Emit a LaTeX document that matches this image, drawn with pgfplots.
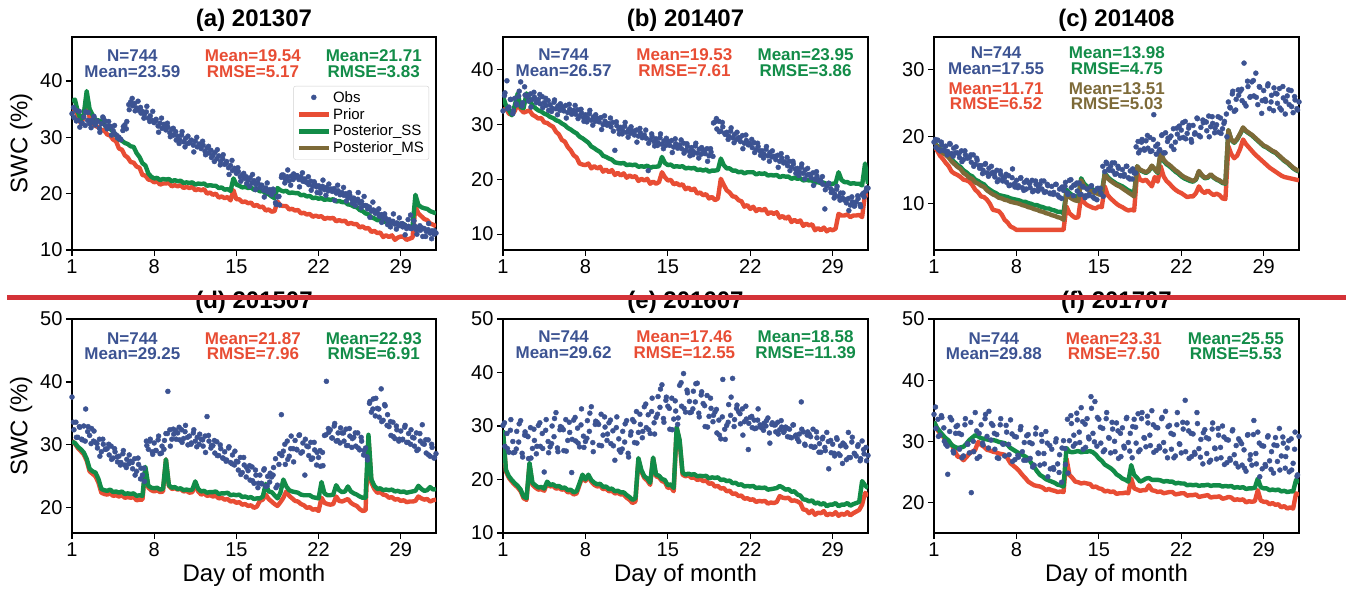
\documentclass[border=0pt]{standalone}
\usepackage{fontspec}
\setmainfont{Liberation Sans}
\usepackage{pgfplots}
\usepackage{pgfplotstable}
\pgfplotsset{compat=1.18}
\definecolor{obsblue}{RGB}{60,83,146}
\definecolor{priorred}{RGB}{232,77,52}
\definecolor{ssgreen}{RGB}{18,140,72}
\definecolor{msolive}{RGB}{125,106,56}
\definecolor{sepred}{RGB}{212,50,56}

% ---------- panel (a) 201307 ----------
\pgfplotstableread[header=false,row sep=\\]{%
34.2\\33.5\\34.8\\33.0\\31.8\\32.5\\%
33.6\\34.5\\33.0\\32.4\\33.0\\32.6\\%
32.2\\32.8\\31.6\\32.4\\33.4\\32.9\\%
31.5\\32.0\\31.9\\31.2\\30.6\\30.3\\%
30.0\\29.6\\31.2\\32.2\\32.8\\35.8\\%
36.3\\35.6\\36.0\\35.2\\34.8\\35.3\\%
34.6\\34.0\\34.5\\33.4\\33.8\\33.0\\%
32.6\\33.2\\32.0\\32.5\\31.6\\32.3\\%
31.3\\31.8\\30.8\\31.4\\30.4\\31.0\\%
30.2\\29.6\\30.4\\29.2\\29.8\\28.9\\%
29.0\\29.5\\28.6\\29.3\\28.3\\28.8\\%
28.0\\28.6\\27.5\\28.1\\27.2\\27.7\\%
26.8\\27.3\\26.2\\26.7\\25.7\\26.2\\%
25.2\\25.7\\24.6\\25.0\\24.1\\24.5\\%
23.6\\23.9\\23.0\\23.3\\22.7\\23.0\\%
22.4\\22.8\\21.9\\22.3\\21.6\\21.9\\%
21.1\\21.5\\20.6\\21.0\\20.3\\20.7\\%
19.8\\20.3\\18.4\\19.4\\18.0\\22.9\\%
23.3\\22.6\\23.0\\22.3\\23.1\\22.5\\%
22.9\\23.2\\22.5\\23.0\\22.2\\22.6\\%
22.0\\21.6\\22.2\\21.3\\21.8\\21.2\\%
21.4\\20.9\\21.3\\20.7\\21.1\\20.5\\%
20.8\\20.4\\20.9\\20.1\\20.5\\19.8\\%
20.2\\19.7\\20.0\\19.3\\19.7\\19.0\\%
19.2\\18.7\\19.0\\18.3\\18.6\\17.9\\%
17.9\\17.3\\17.6\\16.9\\17.1\\16.5\\%
16.6\\16.0\\16.3\\15.6\\15.8\\15.3\\%
15.4\\14.9\\15.1\\14.6\\14.8\\14.3\\%
14.6\\14.1\\14.4\\13.8\\14.2\\16.2\\%
13.9\\14.3\\13.6\\14.0\\13.5\\13.9\\%
13.8\\13.3\\13.6\\13.0\\13.4\\12.8\\%
13.0\\}\aObs
\pgfplotstableread[header=false,row sep=\\]{%
35.3\\32.9\\34.6\\32.5\\%
32.1\\34.4\\31.7\\33.7\\%
32.9\\30.9\\33.6\\32.0\\%
32.8\\30.4\\32.1\\29.9\\%
29.6\\31.9\\31.5\\34.9\\%
36.9\\34.7\\36.4\\34.3\\%
33.4\\35.5\\32.8\\34.6\\%
32.9\\30.9\\33.4\\31.8\\%
32.5\\30.1\\31.6\\29.5\\%
28.9\\31.0\\28.3\\30.2\\%
29.4\\27.4\\30.0\\28.3\\%
29.3\\26.9\\28.4\\26.4\\%
25.7\\27.8\\25.1\\26.9\\%
25.4\\23.4\\25.9\\24.3\\%
24.6\\22.2\\23.6\\21.8\\%
21.3\\23.4\\20.7\\22.6\\%
21.4\\19.4\\21.9\\20.3\\%
20.8\\18.1\\19.5\\23.3\\%
21.9\\24.2\\21.5\\23.5\\%
23.2\\21.2\\23.7\\22.1\\%
23.0\\20.6\\22.1\\20.2\\%
20.1\\22.4\\19.7\\21.7\\%
20.8\\18.8\\21.5\\19.9\\%
21.1\\18.7\\20.2\\18.3\\%
17.9\\20.2\\17.5\\19.5\\%
17.8\\15.8\\18.5\\16.9\\%
17.3\\14.9\\16.4\\14.5\\%
14.1\\16.4\\13.7\\15.7\\%
14.7\\12.7\\15.4\\13.8\\%
15.2\\12.8\\14.3\\12.4\\%
12.4\\14.7\\12.0\\13.4\\%
}\aObsB
\pgfplotstableread[header=false,row sep=\\]{%
34.8\\35.3\\33.5\\32.5\\%
33.5\\37.3\\33.5\\32.5\\%
32.0\\31.8\\31.3\\31.2\\%
30.5\\30.3\\29.6\\29.3\\%
28.0\\27.8\\26.8\\26.4\\%
25.6\\25.5\\24.8\\24.6\\%
23.3\\23.2\\22.5\\22.4\\%
22.0\\22.2\\21.6\\21.8\\%
21.8\\21.9\\21.3\\21.5\\%
21.3\\21.5\\21.0\\21.2\\%
21.0\\21.2\\20.6\\20.8\\%
20.6\\20.8\\20.0\\20.2\\%
19.8\\20.0\\19.3\\19.5\\%
19.2\\19.4\\18.8\\20.6\\%
19.0\\19.0\\18.5\\18.6\\%
18.3\\18.4\\17.8\\18.0\\%
17.6\\17.7\\17.0\\17.2\\%
16.8\\16.9\\18.6\\17.9\\%
17.8\\17.8\\17.2\\17.3\\%
17.0\\17.1\\16.5\\16.6\\%
16.3\\16.4\\15.9\\16.1\\%
15.9\\16.0\\15.5\\15.7\\%
15.6\\15.7\\15.1\\15.3\\%
15.1\\15.2\\14.6\\14.8\\%
14.6\\14.6\\14.0\\14.2\\%
13.8\\13.9\\13.2\\13.4\\%
13.0\\13.1\\12.3\\12.6\\%
12.3\\12.6\\11.8\\12.2\\%
12.4\\12.3\\11.8\\12.0\\%
12.2\\17.7\\16.5\\16.0\\%
15.5\\15.3\\14.7\\14.5\\%
14.2\\}\aPri
\pgfplotstableread[header=false,row sep=\\]{%
36.4\\36.7\\34.5\\33.1\\%
34.0\\38.2\\35.0\\34.0\\%
33.1\\33.0\\32.8\\32.3\\%
31.6\\31.5\\31.0\\30.3\\%
29.6\\29.4\\29.0\\28.8\\%
28.4\\28.3\\27.2\\26.5\\%
25.4\\25.0\\23.6\\23.0\\%
22.7\\22.8\\22.4\\22.6\\%
22.5\\22.6\\22.2\\22.4\\%
22.2\\22.3\\21.9\\22.0\\%
21.9\\22.0\\21.6\\21.8\\%
21.7\\21.8\\21.4\\21.5\\%
21.4\\21.4\\21.0\\21.1\\%
20.7\\20.8\\20.5\\22.7\\%
21.6\\21.4\\21.1\\21.2\\%
21.0\\21.1\\20.7\\20.8\\%
20.4\\20.5\\20.0\\19.9\\%
19.5\\19.2\\21.0\\20.6\\%
20.4\\20.5\\20.1\\20.2\\%
20.1\\20.1\\19.7\\19.8\\%
19.5\\19.6\\19.2\\19.3\\%
19.1\\19.2\\18.9\\19.0\\%
18.9\\19.0\\18.6\\18.7\\%
18.5\\18.5\\18.1\\18.0\\%
17.7\\17.6\\17.1\\16.9\\%
16.5\\16.3\\15.8\\15.6\\%
15.3\\15.3\\15.0\\15.1\\%
14.9\\15.0\\14.6\\14.7\\%
14.6\\14.6\\14.2\\14.1\\%
14.1\\19.8\\18.0\\17.6\\%
17.4\\17.3\\16.9\\16.7\\%
16.5\\}\aSS

% ---------- panel (b) 201407 ----------
\pgfplotstableread[header=false,row sep=\\]{%
32.5\\35.8\\38.0\\33.2\\34.6\\32.0\\%
34.8\\33.6\\35.2\\37.8\\34.0\\36.9\\%
35.2\\34.3\\35.6\\34.6\\35.0\\34.0\\%
34.6\\33.8\\35.1\\34.0\\33.5\\34.4\\%
33.6\\33.0\\34.1\\32.9\\33.4\\32.6\\%
33.2\\32.5\\33.5\\32.2\\32.8\\31.9\\%
32.6\\31.9\\32.7\\31.6\\32.1\\31.3\\%
31.8\\31.2\\32.0\\30.8\\31.4\\30.6\\%
31.1\\30.5\\31.3\\30.0\\30.6\\29.9\\%
30.2\\29.6\\30.4\\25.3\\29.8\\29.1\\%
29.5\\28.9\\29.7\\28.6\\29.1\\28.4\\%
28.8\\28.1\\29.0\\27.9\\28.5\\27.6\\%
28.1\\27.5\\21.6\\27.2\\27.8\\26.9\\%
27.4\\26.7\\27.6\\26.4\\27.0\\26.2\\%
26.9\\26.2\\27.1\\25.9\\26.5\\25.7\\%
26.3\\25.6\\26.6\\25.3\\26.0\\25.1\\%
25.8\\25.1\\26.1\\24.8\\25.5\\24.6\\%
25.3\\24.7\\25.6\\24.3\\25.0\\24.2\\%
30.5\\29.2\\30.6\\28.8\\29.6\\28.4\\%
28.6\\27.9\\28.8\\27.6\\28.2\\27.3\\%
27.6\\26.9\\28.0\\26.6\\27.1\\26.3\\%
26.4\\25.8\\26.7\\25.4\\26.0\\25.2\\%
25.2\\24.6\\25.5\\24.3\\24.9\\24.1\\%
24.2\\23.6\\24.4\\23.3\\23.9\\23.0\\%
23.1\\22.5\\23.3\\22.2\\22.8\\21.9\\%
22.0\\21.4\\22.2\\21.1\\21.7\\20.8\\%
20.9\\20.3\\21.2\\20.0\\20.6\\19.7\\%
19.7\\19.1\\14.6\\18.8\\19.3\\18.3\\%
17.9\\17.3\\18.2\\16.9\\17.5\\16.6\\%
16.2\\15.7\\16.5\\15.3\\15.9\\15.1\\%
15.9\\16.5\\15.4\\17.2\\16.8\\17.9\\%
18.4\\}\bObs
\pgfplotstableread[header=false,row sep=\\]{%
35.3\\32.9\\34.6\\32.5\\%
33.8\\36.1\\33.4\\35.4\\%
35.2\\33.2\\35.9\\34.3\\%
35.5\\33.1\\34.8\\32.6\\%
32.4\\34.5\\31.8\\33.8\\%
33.2\\31.2\\33.7\\32.1\\%
33.5\\31.1\\32.8\\30.6\\%
30.5\\32.6\\29.9\\31.8\\%
31.1\\29.1\\31.6\\30.1\\%
31.2\\28.8\\30.5\\28.3\\%
28.3\\30.4\\27.7\\29.6\\%
28.8\\26.8\\29.3\\27.8\\%
29.0\\26.6\\28.3\\26.1\\%
26.2\\28.3\\25.6\\27.5\\%
26.9\\24.9\\27.4\\26.0\\%
27.2\\24.8\\26.5\\24.3\\%
24.5\\26.6\\23.9\\25.8\\%
25.3\\23.3\\25.6\\30.3\\%
31.1\\28.7\\30.4\\28.2\\%
27.3\\29.4\\26.7\\28.6\\%
27.6\\25.6\\28.1\\26.6\\%
27.3\\24.9\\26.6\\24.4\\%
23.9\\26.0\\23.3\\25.2\\%
24.2\\22.2\\24.7\\23.2\\%
24.0\\21.6\\23.3\\21.1\\%
20.7\\22.8\\20.1\\22.0\\%
20.9\\18.9\\21.4\\19.9\\%
20.5\\18.1\\19.2\\17.6\\%
16.6\\18.7\\16.2\\17.5\\%
16.3\\14.3\\16.8\\15.2\\%
17.0\\15.0\\17.5\\18.4\\%
}\bObsB
\pgfplotstableread[header=false,row sep=\\]{%
32.6\\33.0\\32.0\\31.8\\%
32.5\\33.8\\32.8\\32.2\\%
32.4\\32.6\\31.8\\31.5\\%
31.1\\31.2\\30.4\\30.3\\%
29.9\\29.6\\28.7\\28.2\\%
27.2\\26.9\\25.9\\25.3\\%
24.4\\24.0\\22.9\\22.7\\%
22.6\\22.9\\22.0\\22.4\\%
22.0\\22.3\\21.4\\21.8\\%
21.3\\21.7\\20.8\\21.2\\%
20.7\\21.1\\20.3\\20.7\\%
20.4\\20.6\\19.7\\20.1\\%
19.8\\20.1\\19.2\\19.6\\%
19.2\\19.5\\21.3\\20.4\\%
19.8\\19.9\\19.1\\19.3\\%
18.9\\19.1\\18.2\\18.5\\%
18.0\\18.3\\17.4\\17.6\\%
17.1\\17.3\\16.5\\16.8\\%
16.2\\16.5\\20.1\\19.0\\%
18.0\\17.6\\16.9\\16.8\\%
16.2\\16.0\\15.0\\15.3\\%
14.6\\15.0\\14.2\\14.6\\%
14.3\\14.6\\13.7\\14.0\\%
13.7\\14.0\\13.0\\13.3\\%
12.8\\13.2\\12.2\\12.6\\%
12.2\\12.5\\11.5\\11.9\\%
11.6\\11.8\\10.7\\11.1\\%
10.7\\11.2\\10.5\\10.9\\%
10.7\\11.0\\13.7\\13.4\\%
13.4\\13.6\\13.1\\13.4\\%
13.4\\13.5\\13.1\\17.4\\%
16.8\\}\bPri
\pgfplotstableread[header=false,row sep=\\]{%
35.1\\33.5\\32.6\\31.7\\%
33.5\\35.7\\33.2\\33.0\\%
35.7\\34.5\\33.5\\33.0\\%
32.6\\32.4\\32.0\\31.8\\%
31.4\\31.2\\30.8\\30.6\\%
30.2\\29.9\\29.4\\29.1\\%
28.7\\28.4\\27.8\\27.5\\%
27.1\\26.7\\26.0\\25.7\\%
25.3\\25.0\\24.3\\24.1\\%
23.8\\23.6\\23.1\\23.0\\%
22.9\\23.0\\22.6\\22.7\\%
22.6\\22.7\\22.3\\22.4\\%
22.3\\22.5\\22.1\\22.3\\%
22.3\\22.4\\24.1\\23.0\\%
22.6\\22.7\\22.3\\22.4\\%
22.3\\22.4\\22.0\\22.1\\%
22.0\\22.1\\21.7\\21.8\\%
21.6\\21.8\\21.4\\21.6\\%
21.6\\21.7\\23.8\\22.6\\%
22.0\\22.0\\21.6\\21.6\\%
21.3\\21.4\\21.1\\21.3\\%
21.3\\21.3\\20.9\\21.1\\%
21.0\\21.1\\20.7\\20.8\\%
20.7\\20.8\\20.4\\20.6\\%
20.5\\20.5\\20.1\\20.3\\%
20.1\\20.2\\19.8\\19.9\\%
19.8\\19.8\\19.4\\19.5\\%
19.3\\19.4\\19.1\\19.2\\%
19.2\\19.3\\21.3\\19.9\\%
19.5\\19.5\\19.2\\19.3\\%
19.2\\19.2\\18.9\\22.9\\%
19.2\\}\bSS

% ---------- panel (c) 201408 ----------
\pgfplotstableread[header=false,row sep=\\]{%
19.2\\18.4\\19.5\\17.9\\18.8\\18.1\\%
18.6\\17.8\\19.0\\17.5\\18.3\\17.6\\%
17.6\\16.9\\17.9\\16.6\\17.3\\16.8\\%
16.9\\16.2\\17.3\\15.9\\16.5\\15.7\\%
15.7\\15.0\\15.9\\14.6\\15.3\\14.5\\%
14.7\\14.0\\15.0\\13.6\\14.4\\13.4\\%
13.9\\13.2\\14.2\\12.8\\15.2\\13.0\\%
13.5\\12.7\\13.8\\12.4\\13.2\\12.2\\%
13.2\\12.4\\13.5\\12.0\\12.9\\11.9\\%
12.9\\12.2\\13.4\\11.8\\12.7\\11.6\\%
12.6\\11.7\\12.9\\11.3\\12.2\\10.8\\%
12.0\\13.2\\11.6\\13.5\\12.4\\11.2\\%
12.8\\11.9\\13.1\\11.4\\12.5\\10.9\\%
12.2\\11.4\\12.6\\11.0\\11.9\\10.6\\%
12.3\\11.6\\15.6\\14.8\\16.0\\15.2\\%
15.6\\14.9\\16.1\\14.5\\15.3\\14.2\\%
15.1\\14.4\\15.6\\13.9\\14.9\\13.7\\%
14.6\\18.5\\19.3\\18.0\\19.6\\18.2\\%
19.4\\18.3\\19.9\\17.9\\23.3\\18.6\\%
18.9\\18.1\\20.2\\17.6\\20.6\\19.3\\%
19.8\\18.6\\21.2\\19.2\\20.4\\21.6\\%
21.0\\19.9\\22.3\\20.5\\21.7\\19.6\\%
21.7\\20.6\\22.8\\20.2\\21.4\\22.5\\%
22.3\\20.9\\23.1\\21.5\\22.0\\20.6\\%
21.8\\20.7\\22.8\\21.2\\22.3\\23.4\\%
25.2\\24.3\\26.4\\23.8\\25.6\\27.0\\%
26.8\\25.4\\31.0\\24.6\\27.5\\25.9\\%
28.2\\26.1\\29.5\\24.8\\27.4\\23.5\\%
26.9\\25.3\\27.6\\24.2\\26.2\\23.9\\%
26.5\\25.0\\27.2\\24.0\\25.8\\23.4\\%
26.1\\24.8\\26.9\\23.6\\25.5\\24.2\\%
25.2\\}\cObs
\pgfplotstableread[header=false,row sep=\\]{%
19.6\\18.1\\19.2\\17.9\\%
17.3\\18.9\\17.1\\18.5\\%
17.5\\16.3\\17.9\\16.9\\%
17.3\\15.6\\16.8\\15.3\\%
14.5\\16.0\\14.1\\15.6\\%
14.5\\13.3\\14.9\\13.9\\%
14.4\\12.7\\13.9\\12.5\\%
12.4\\13.9\\12.0\\13.5\\%
13.0\\11.8\\13.4\\12.4\\%
13.4\\11.7\\12.9\\11.5\\%
11.4\\12.9\\11.0\\12.5\\%
12.6\\11.4\\13.6\\12.8\\%
13.1\\11.4\\12.6\\11.2\\%
11.2\\12.7\\10.8\\12.3\\%
12.3\\11.1\\16.2\\15.0\\%
16.1\\14.4\\15.6\\14.2\\%
14.1\\15.6\\13.7\\15.2\\%
14.6\\17.6\\19.2\\18.0\\%
20.2\\17.8\\19.6\\17.4\\%
17.9\\20.3\\17.6\\19.8\\%
20.1\\18.1\\21.3\\19.8\\%
22.1\\19.7\\21.3\\19.2\\%
20.4\\22.7\\20.0\\22.1\\%
22.2\\20.0\\23.0\\21.3\\%
23.0\\20.5\\22.0\\20.0\\%
24.4\\26.8\\24.0\\26.2\\%
27.1\\25.0\\28.3\\26.0\\%
28.4\\25.9\\27.5\\25.4\\%
25.6\\27.9\\25.2\\27.3\\%
26.4\\24.3\\27.5\\25.3\\%
27.0\\24.5\\26.0\\24.0\\%
}\cObsB
\pgfplotstableread[header=false,row sep=\\]{%
18.6\\18.0\\17.2\\16.7\\%
16.1\\15.6\\14.8\\14.5\\%
14.3\\14.0\\13.6\\13.5\\%
13.3\\12.8\\12.1\\11.7\\%
11.1\\11.0\\10.6\\10.0\\%
9.1\\9.0\\8.9\\8.4\\%
7.6\\7.2\\6.6\\6.4\\%
6.1\\6.1\\6.1\\6.1\\%
6.1\\6.1\\6.1\\6.1\\%
6.1\\6.1\\6.1\\6.1\\%
6.1\\6.1\\6.1\\6.1\\%
6.1\\9.6\\8.6\\8.2\\%
7.9\\8.0\\11.2\\10.2\\%
9.8\\9.6\\9.4\\9.3\\%
9.6\\9.5\\12.6\\11.3\\%
10.8\\10.4\\10.0\\9.7\\%
9.5\\9.2\\9.0\\9.1\\%
9.0\\14.6\\13.6\\13.4\\%
13.6\\13.1\\12.6\\14.0\\%
13.3\\15.6\\14.1\\13.4\\%
13.0\\12.5\\12.1\\11.8\\%
11.6\\11.3\\11.0\\11.1\\%
11.1\\11.6\\12.6\\11.9\\%
11.6\\12.0\\11.6\\11.3\\%
11.5\\11.3\\10.8\\10.7\\%
18.6\\17.4\\16.8\\17.2\\%
18.2\\19.6\\18.9\\18.4\\%
17.9\\17.4\\17.0\\16.6\\%
16.2\\15.8\\15.4\\15.1\\%
14.8\\14.5\\14.2\\14.0\\%
13.9\\13.8\\13.7\\13.6\\%
13.5\\}\cPri
\pgfplotstableread[header=false,row sep=\\]{%
19.1\\18.7\\18.2\\17.9\\%
17.6\\17.2\\16.6\\16.2\\%
15.8\\15.5\\15.0\\14.7\\%
14.3\\14.1\\13.6\\13.4\\%
13.1\\12.9\\12.4\\12.1\\%
11.8\\11.6\\11.3\\11.2\\%
11.1\\11.0\\10.8\\10.7\\%
10.6\\10.5\\10.3\\10.3\\%
10.1\\10.0\\9.8\\9.8\\%
9.6\\9.5\\9.3\\9.3\\%
9.1\\9.0\\8.8\\8.8\\%
8.6\\12.1\\11.6\\11.3\\%
11.1\\11.0\\13.8\\13.0\\%
12.6\\12.4\\12.1\\12.0\\%
11.8\\11.7\\14.6\\14.0\\%
13.6\\13.3\\13.0\\12.8\\%
12.6\\12.3\\12.0\\11.8\\%
11.6\\15.6\\15.0\\14.8\\%
14.6\\14.9\\15.6\\15.1\\%
14.6\\17.6\\16.4\\15.9\\%
15.6\\15.2\\14.8\\14.5\\%
14.1\\13.8\\13.6\\13.4\\%
13.3\\13.6\\14.8\\14.2\\%
13.8\\13.9\\14.3\\13.9\\%
13.6\\13.4\\13.1\\13.0\\%
21.0\\19.5\\19.1\\19.6\\%
20.4\\21.3\\20.8\\20.5\\%
20.2\\19.8\\19.4\\19.0\\%
18.6\\18.4\\18.1\\17.8\\%
17.6\\17.2\\16.8\\16.4\\%
16.1\\15.7\\15.3\\15.0\\%
14.8\\}\cSS
\pgfplotstableread[header=false,row sep=\\]{%
19.0\\18.6\\18.0\\17.6\\%
17.3\\16.9\\16.3\\15.9\\%
15.5\\15.2\\14.6\\14.3\\%
13.9\\13.7\\13.2\\13.0\\%
12.7\\12.5\\12.0\\11.7\\%
11.4\\11.2\\10.9\\10.8\\%
10.6\\10.5\\10.3\\10.2\\%
10.1\\10.0\\9.8\\9.7\\%
9.5\\9.4\\9.2\\9.1\\%
8.9\\8.8\\8.6\\8.5\\%
8.3\\8.2\\8.0\\7.9\\%
7.6\\11.6\\11.0\\10.7\\%
10.5\\10.4\\13.5\\12.6\\%
12.2\\12.0\\11.7\\11.6\\%
11.4\\11.3\\14.4\\13.8\\%
13.4\\13.1\\12.8\\12.6\\%
12.3\\12.0\\11.7\\11.4\\%
11.1\\15.6\\15.1\\14.9\\%
14.7\\15.0\\15.7\\15.2\\%
14.7\\17.8\\16.6\\16.1\\%
15.8\\15.4\\15.0\\14.7\\%
14.3\\14.0\\13.8\\13.6\\%
13.4\\13.7\\14.9\\14.3\\%
13.9\\14.0\\14.4\\14.0\\%
13.7\\13.5\\13.2\\13.1\\%
21.0\\19.6\\19.2\\19.7\\%
20.5\\21.4\\20.9\\20.6\\%
20.3\\19.9\\19.5\\19.1\\%
18.7\\18.5\\18.2\\17.9\\%
17.7\\17.3\\16.9\\16.5\\%
16.2\\15.8\\15.4\\15.1\\%
14.9\\}\cMS

% ---------- panel (d) 201507 ----------
\pgfplotstableread[header=false,row sep=\\]{%
37.6\\32.4\\33.6\\31.2\\32.8\\30.9\\%
33.0\\35.7\\32.1\\31.5\\32.6\\30.6\\%
30.4\\29.5\\30.9\\28.9\\30.1\\29.3\\%
29.4\\28.4\\29.8\\27.9\\28.9\\28.1\\%
28.2\\27.2\\28.6\\26.8\\27.7\\27.0\\%
27.4\\26.2\\27.8\\25.8\\26.9\\24.6\\%
25.2\\24.2\\30.6\\29.3\\30.9\\28.9\\%
30.3\\29.1\\30.8\\28.6\\29.8\\29.3\\%
31.8\\38.5\\32.4\\30.9\\31.7\\32.3\\%
31.9\\30.8\\32.4\\31.0\\33.1\\31.2\\%
31.4\\30.3\\31.9\\30.6\\31.2\\30.1\\%
30.9\\29.8\\31.4\\34.5\\30.6\\29.5\\%
29.9\\28.7\\30.5\\28.3\\29.4\\27.9\\%
28.9\\27.6\\29.5\\27.2\\28.4\\26.8\\%
27.4\\26.0\\28.0\\25.6\\26.8\\24.9\\%
25.9\\24.4\\26.5\\23.9\\25.2\\23.2\\%
25.2\\23.8\\26.0\\23.4\\25.0\\24.1\\%
24.9\\26.4\\27.8\\23.6\\28.6\\34.8\\%
29.0\\26.9\\30.6\\28.2\\31.4\\29.4\\%
30.7\\29.2\\31.5\\28.7\\30.3\\25.2\\%
29.8\\28.3\\30.4\\27.9\\29.2\\26.8\\%
28.0\\26.6\\28.8\\31.5\\40.1\\32.6\\%
32.4\\31.1\\33.0\\30.6\\31.9\\30.3\\%
31.9\\30.6\\32.5\\29.9\\31.4\\29.6\\%
31.2\\29.8\\31.9\\29.2\\30.6\\28.4\\%
29.5\\27.6\\36.6\\35.2\\37.3\\34.6\\%
35.8\\34.4\\38.9\\33.9\\36.2\\33.1\\%
32.9\\31.5\\33.6\\31.0\\32.4\\30.6\\%
32.2\\30.9\\32.8\\30.4\\31.8\\30.1\\%
31.2\\29.8\\31.9\\29.3\\30.6\\33.2\\%
30.1\\28.7\\30.8\\28.2\\29.6\\27.9\\%
28.6\\}\dObs
\pgfplotstableread[header=false,row sep=\\]{%
33.6\\31.2\\32.9\\30.8\\%
30.6\\32.9\\30.2\\32.2\\%
30.2\\28.2\\30.9\\29.3\\%
30.1\\27.7\\29.4\\27.3\\%
26.8\\29.1\\26.4\\28.4\\%
27.2\\25.2\\27.9\\26.3\\%
26.3\\29.9\\30.6\\28.5\\%
29.1\\31.4\\28.7\\30.7\\%
31.8\\29.8\\32.5\\30.9\\%
32.8\\30.4\\32.1\\30.0\\%
30.1\\32.4\\29.7\\31.7\\%
30.8\\28.8\\31.5\\29.9\\%
30.7\\28.3\\30.0\\27.9\\%
27.4\\29.7\\27.0\\29.0\\%
27.3\\25.3\\28.0\\26.4\\%
26.7\\24.3\\26.0\\23.9\\%
23.9\\26.2\\23.5\\25.5\\%
25.2\\23.2\\26.9\\28.3\\%
30.1\\27.7\\29.4\\27.3\\%
29.3\\31.6\\28.9\\30.9\\%
29.7\\27.7\\30.4\\28.8\\%
29.1\\26.7\\31.6\\32.0\\%
31.1\\33.4\\30.7\\32.7\\%
31.9\\29.9\\32.6\\31.0\\%
31.9\\29.5\\31.2\\29.1\\%
28.1\\36.9\\35.7\\37.4\\%
35.7\\33.7\\36.4\\34.8\\%
33.7\\31.3\\33.0\\30.9\\%
30.8\\33.1\\30.4\\32.4\\%
31.1\\29.1\\31.8\\30.2\\%
30.8\\28.4\\30.1\\28.0\\%
}\dObsB
\pgfplotstableread[header=false,row sep=\\]{%
30.6\\30.2\\29.5\\29.0\\%
28.5\\27.5\\25.8\\25.4\\%
25.0\\24.0\\22.4\\22.2\\%
22.1\\22.3\\21.9\\22.0\\%
21.8\\22.0\\21.6\\21.7\\%
21.6\\21.7\\21.2\\21.3\\%
21.3\\26.3\\23.2\\22.8\\%
22.6\\22.8\\22.5\\22.6\\%
27.7\\23.5\\23.0\\23.1\\%
22.9\\23.0\\22.6\\22.7\\%
22.4\\22.5\\23.7\\22.6\\%
22.1\\22.3\\21.9\\22.0\\%
21.8\\21.9\\21.5\\21.6\\%
21.3\\21.4\\21.0\\21.1\\%
20.8\\20.9\\20.5\\20.6\\%
20.3\\20.4\\20.0\\20.2\\%
21.1\\21.3\\22.1\\21.4\\%
21.0\\20.6\\20.3\\20.9\\%
21.6\\22.6\\21.9\\21.5\\%
21.1\\21.0\\20.6\\20.4\\%
20.0\\20.1\\19.7\\19.8\\%
19.5\\21.6\\20.8\\20.6\\%
20.5\\20.6\\21.8\\21.1\\%
21.0\\21.2\\21.4\\20.8\\%
20.5\\20.3\\19.8\\19.5\\%
19.6\\31.1\\24.0\\23.0\\%
22.4\\22.5\\22.1\\22.0\\%
21.6\\21.7\\21.3\\21.4\\%
21.1\\21.2\\20.9\\21.0\\%
21.0\\21.1\\21.8\\21.5\\%
21.3\\21.4\\21.0\\21.2\\%
21.3\\}\dPri
\pgfplotstableread[header=false,row sep=\\]{%
30.5\\30.3\\29.7\\29.3\\%
28.8\\27.8\\26.2\\25.8\\%
25.6\\24.6\\23.0\\22.8\\%
22.7\\22.9\\22.5\\22.6\\%
22.4\\22.6\\22.2\\22.3\\%
22.2\\22.3\\21.9\\22.0\\%
21.9\\26.5\\23.5\\23.2\\%
23.1\\23.2\\22.9\\23.0\\%
27.7\\23.6\\23.2\\23.3\\%
23.0\\23.1\\22.8\\22.9\\%
22.8\\22.9\\24.2\\23.0\\%
22.6\\22.7\\22.4\\22.5\\%
22.5\\22.6\\22.2\\22.3\\%
22.3\\22.4\\22.0\\22.1\\%
22.0\\22.1\\21.7\\21.8\\%
21.6\\21.7\\21.4\\21.5\\%
21.5\\21.8\\23.8\\22.6\\%
22.5\\22.0\\21.5\\22.4\\%
24.5\\23.4\\22.8\\22.6\\%
22.5\\22.4\\22.1\\22.0\\%
22.0\\22.0\\21.7\\21.6\\%
21.5\\24.1\\22.3\\22.0\\%
22.0\\22.1\\23.6\\22.8\\%
22.5\\22.6\\23.4\\22.6\\%
22.3\\22.1\\21.8\\21.6\\%
21.6\\31.6\\24.5\\23.5\\%
23.0\\23.1\\22.8\\22.9\\%
22.8\\22.9\\22.6\\22.7\\%
22.5\\22.6\\22.4\\22.5\\%
22.6\\22.7\\23.5\\23.0\\%
22.7\\22.8\\23.3\\22.9\\%
23.0\\}\dSS

% ---------- panel (e) 201607 ----------
\pgfplotstableread[header=false,row sep=\\]{%
30.1\\26.2\\28.6\\25.1\\31.2\\27.1\\%
25.1\\29.0\\27.0\\31.0\\24.2\\28.3\\%
28.2\\23.9\\29.7\\25.8\\27.3\\24.8\\%
30.1\\26.2\\28.6\\21.4\\31.2\\27.1\\%
26.1\\30.0\\28.0\\32.5\\25.2\\29.3\\%
29.7\\25.4\\31.2\\27.3\\28.8\\21.3\\%
31.1\\27.2\\29.6\\26.1\\33.2\\28.1\\%
27.1\\31.0\\29.0\\33.6\\25.2\\30.3\\%
30.7\\26.4\\32.2\\28.3\\29.8\\27.3\\%
30.6\\26.7\\29.1\\23.6\\31.7\\27.6\\%
25.1\\29.0\\27.0\\31.0\\24.2\\28.3\\%
31.2\\26.9\\32.7\\28.8\\30.3\\27.8\\%
33.6\\29.7\\32.1\\28.6\\35.2\\30.6\\%
31.6\\35.5\\33.5\\37.7\\30.7\\34.8\\%
33.7\\29.4\\35.2\\31.3\\32.8\\30.3\\%
37.6\\33.7\\39.8\\32.6\\36.2\\34.6\\%
32.6\\36.5\\34.5\\38.0\\31.7\\35.8\\%
34.2\\29.9\\35.7\\31.8\\33.3\\30.8\\%
32.6\\28.7\\31.1\\27.6\\38.7\\29.4\\%
30.1\\34.0\\32.0\\38.9\\31.2\\33.3\\%
32.7\\30.4\\33.2\\30.8\\31.3\\25.6\\%
31.6\\29.7\\31.1\\29.6\\33.2\\30.2\\%
29.6\\30.5\\30.0\\31.5\\26.8\\30.3\\%
30.2\\28.9\\30.7\\29.3\\29.8\\28.8\\%
29.8\\28.0\\29.4\\27.8\\30.2\\28.1\\%
27.6\\28.5\\34.5\\28.9\\26.4\\28.3\\%
28.5\\26.2\\29.4\\26.1\\27.8\\25.1\\%
25.1\\27.9\\26.0\\28.8\\22.0\\27.3\\%
26.6\\24.4\\27.8\\24.8\\26.3\\23.0\\%
26.5\\23.7\\28.8\\24.1\\27.9\\24.9\\%
24.4\\26.5\\23.5\\27.2\\24.8\\26.0\\%
24.5\\}\eObs
\pgfplotstableread[header=false,row sep=\\]{%
30.6\\25.8\\29.2\\25.0\\%
25.7\\30.4\\24.9\\28.9\\%
28.0\\24.0\\29.4\\26.2\\%
30.6\\25.8\\29.2\\25.0\\%
26.7\\31.4\\25.9\\29.9\\%
29.3\\25.3\\30.7\\27.5\\%
31.6\\26.8\\30.2\\26.0\\%
27.7\\32.4\\26.9\\30.9\\%
30.3\\26.3\\31.7\\28.5\\%
31.1\\26.3\\29.7\\25.5\\%
25.7\\30.4\\24.9\\28.9\\%
30.8\\26.8\\32.2\\29.0\\%
34.1\\29.3\\32.7\\28.5\\%
32.2\\36.9\\31.4\\35.4\\%
33.3\\29.3\\34.7\\31.5\\%
38.1\\33.3\\36.7\\32.5\\%
33.2\\37.9\\32.4\\36.4\\%
33.8\\29.8\\35.2\\32.0\\%
33.1\\28.3\\31.7\\27.5\\%
30.7\\35.4\\29.9\\33.9\\%
32.3\\28.3\\33.7\\30.5\\%
31.8\\29.5\\31.1\\29.8\\%
29.2\\31.0\\28.7\\30.6\\%
30.2\\28.5\\31.0\\29.0\\%
29.6\\27.9\\30.2\\28.3\\%
27.1\\29.4\\26.6\\28.9\\%
28.0\\26.0\\28.9\\26.7\\%
27.6\\25.4\\27.1\\25.0\\%
24.9\\27.5\\24.5\\26.8\\%
26.1\\24.1\\27.0\\24.8\\%
26.2\\23.9\\25.6\\23.5\\%
}\eObsB
\pgfplotstableread[header=false,row sep=\\]{%
29.0\\21.5\\20.3\\19.6\\%
19.0\\18.5\\17.8\\16.5\\%
16.2\\22.8\\19.0\\18.5\\%
18.1\\18.2\\17.9\\19.3\\%
18.7\\18.8\\18.3\\18.4\\%
18.1\\18.2\\17.6\\17.7\\%
17.2\\17.4\\19.0\\20.6\\%
19.7\\20.6\\19.6\\19.0\\%
18.7\\18.8\\18.2\\18.3\\%
17.8\\17.9\\17.4\\17.5\\%
17.2\\17.2\\16.6\\16.2\\%
15.6\\15.9\\23.7\\21.5\\%
20.3\\19.8\\19.0\\24.0\\%
20.6\\20.4\\19.7\\19.5\\%
18.4\\18.6\\17.8\\29.6\\%
27.1\\20.9\\20.6\\20.8\\%
20.3\\20.4\\19.9\\20.1\\%
19.7\\19.8\\19.2\\19.3\\%
18.7\\18.8\\18.3\\18.4\\%
17.8\\17.9\\17.3\\17.4\\%
16.9\\17.0\\16.4\\16.5\\%
16.2\\16.3\\15.8\\16.0\\%
15.9\\16.0\\15.5\\15.7\\%
15.6\\15.8\\16.9\\16.6\\%
16.5\\16.6\\16.0\\16.1\\%
15.9\\15.6\\14.4\\14.3\\%
13.7\\14.2\\13.4\\13.8\\%
13.7\\14.1\\13.3\\13.6\\%
13.4\\13.9\\13.2\\13.6\\%
13.4\\13.9\\13.3\\13.7\\%
14.0\\14.3\\15.3\\17.5\\%
16.9\\}\ePri
\pgfplotstableread[header=false,row sep=\\]{%
29.2\\21.8\\20.6\\19.9\\%
19.3\\18.8\\18.1\\16.8\\%
16.5\\23.1\\19.4\\18.9\\%
18.5\\18.6\\18.3\\19.6\\%
19.0\\19.1\\18.7\\18.8\\%
18.4\\18.5\\18.0\\18.1\\%
17.6\\17.8\\19.3\\20.9\\%
20.0\\20.9\\19.9\\19.4\\%
19.1\\19.2\\18.6\\18.7\\%
18.2\\18.3\\17.8\\17.9\\%
17.6\\17.6\\17.1\\16.7\\%
16.2\\16.5\\24.0\\21.8\\%
20.6\\20.2\\19.4\\24.1\\%
20.9\\20.7\\20.1\\19.9\\%
18.9\\19.1\\18.4\\29.8\\%
27.4\\21.3\\20.9\\21.1\\%
20.9\\21.0\\20.6\\20.7\\%
20.6\\20.7\\20.2\\20.4\\%
20.3\\20.4\\19.9\\20.0\\%
19.7\\19.8\\19.3\\19.4\\%
19.0\\19.1\\18.7\\18.8\\%
18.7\\18.8\\18.4\\18.5\\%
18.4\\18.5\\18.1\\18.2\\%
18.3\\18.4\\18.8\\18.5\\%
18.1\\18.2\\17.7\\17.8\\%
17.2\\17.0\\16.3\\16.2\\%
15.9\\16.1\\15.5\\15.7\\%
15.3\\15.6\\15.0\\15.3\\%
15.3\\15.6\\15.0\\15.3\\%
15.3\\15.6\\15.1\\15.4\\%
15.6\\15.8\\19.7\\18.9\\%
18.4\\}\eSS

% ---------- panel (f) 201707 ----------
\pgfplotstableread[header=false,row sep=\\]{%
34.4\\32.1\\33.6\\31.0\\33.9\\32.2\\%
29.5\\24.6\\31.6\\33.5\\28.1\\31.3\\%
32.6\\28.7\\31.1\\27.6\\33.7\\29.6\\%
28.1\\21.6\\30.0\\34.7\\27.2\\31.3\\%
32.7\\29.4\\33.7\\30.8\\34.9\\30.2\\%
32.6\\28.7\\31.1\\27.2\\33.7\\29.6\\%
27.6\\31.5\\29.5\\33.5\\26.7\\30.8\\%
30.7\\27.4\\31.9\\28.3\\29.8\\26.9\\%
31.1\\27.2\\29.6\\26.1\\32.2\\28.1\\%
26.1\\30.0\\28.0\\31.6\\24.2\\29.3\\%
28.7\\25.4\\29.9\\26.3\\27.8\\23.3\\%
30.1\\26.2\\33.6\\30.1\\32.9\\29.2\\%
29.6\\33.5\\31.5\\35.5\\28.7\\32.8\\%
33.7\\30.4\\37.3\\31.3\\36.5\\29.2\\%
33.6\\29.7\\32.1\\28.6\\34.7\\30.6\\%
28.1\\32.0\\30.0\\33.0\\27.2\\31.3\\%
32.2\\28.9\\33.7\\29.8\\31.3\\27.3\\%
33.6\\29.7\\34.5\\28.6\\34.7\\30.6\\%
29.1\\33.0\\31.0\\35.0\\28.2\\32.3\\%
32.2\\28.9\\33.7\\29.8\\34.9\\27.3\\%
32.6\\28.7\\31.1\\27.6\\34.7\\29.6\\%
28.1\\32.0\\36.7\\33.0\\27.2\\31.3\\%
31.2\\27.9\\34.7\\28.8\\30.3\\26.3\\%
31.9\\28.0\\30.4\\26.9\\33.0\\28.9\\%
27.1\\31.0\\29.0\\32.5\\26.2\\30.3\\%
30.2\\26.9\\31.7\\27.8\\29.3\\25.8\\%
30.0\\26.1\\28.6\\25.1\\31.1\\27.0\\%
26.1\\33.4\\28.0\\31.5\\24.2\\29.3\\%
29.2\\25.9\\30.7\\26.8\\28.3\\24.8\\%
30.6\\26.7\\32.1\\27.6\\29.7\\25.6\\%
28.9\\25.0\\30.4\\26.4\\31.5\\24.3\\%
30.8\\}\fObs
\pgfplotstableread[header=false,row sep=\\]{%
35.6\\30.8\\34.2\\30.0\\%
29.2\\33.9\\28.4\\32.4\\%
31.3\\27.3\\32.7\\29.5\\%
33.1\\28.3\\31.7\\27.5\\%
29.7\\34.4\\28.9\\32.9\\%
31.3\\27.3\\32.7\\29.5\\%
32.6\\27.8\\31.2\\27.0\\%
27.7\\32.4\\26.9\\30.9\\%
29.8\\25.8\\31.2\\28.0\\%
31.1\\26.3\\29.7\\25.5\\%
25.7\\30.4\\24.9\\28.9\\%
28.8\\24.8\\34.2\\31.0\\%
34.6\\29.8\\33.2\\29.0\\%
30.7\\35.4\\29.9\\33.9\\%
32.3\\28.3\\33.7\\30.5\\%
33.1\\28.3\\31.7\\27.5\\%
29.2\\33.9\\28.4\\32.4\\%
32.3\\28.3\\33.7\\30.5\\%
34.1\\29.3\\32.7\\28.5\\%
29.2\\33.9\\28.4\\32.4\\%
31.3\\27.3\\32.7\\29.5\\%
33.1\\28.3\\31.7\\27.5\\%
28.2\\32.9\\27.4\\31.4\\%
30.6\\26.6\\32.0\\28.8\\%
32.1\\27.3\\30.7\\26.5\\%
27.2\\31.9\\26.4\\30.4\\%
29.6\\25.6\\31.0\\27.8\\%
31.1\\26.3\\29.7\\25.5\\%
26.2\\30.9\\25.4\\29.4\\%
29.3\\25.3\\30.7\\27.5\\%
30.1\\25.3\\28.7\\24.5\\%
}\fObsB
\pgfplotstableread[header=false,row sep=\\]{%
33.2\\32.0\\31.3\\30.8\\%
30.2\\29.9\\29.4\\28.5\\%
27.5\\27.4\\26.9\\27.4\\%
28.0\\28.3\\28.6\\29.9\\%
29.4\\29.1\\28.6\\28.5\\%
28.3\\28.2\\28.0\\27.9\\%
27.8\\27.2\\26.4\\26.0\\%
25.6\\25.1\\24.5\\24.0\\%
23.4\\23.1\\22.8\\22.7\\%
22.6\\22.4\\22.0\\22.2\\%
22.0\\21.9\\21.7\\21.8\\%
21.7\\27.2\\24.5\\24.0\\%
23.4\\23.3\\23.1\\23.2\\%
23.1\\23.0\\22.5\\22.6\\%
22.3\\22.2\\21.8\\21.9\\%
21.7\\21.8\\21.4\\21.5\\%
21.5\\21.6\\21.5\\23.9\\%
22.3\\22.1\\21.9\\22.0\\%
22.0\\22.8\\22.0\\21.9\\%
21.7\\21.8\\21.5\\21.6\\%
21.7\\21.7\\21.3\\21.4\\%
21.5\\21.5\\21.1\\21.2\\%
21.2\\21.3\\20.9\\21.0\\%
21.1\\21.2\\20.8\\20.9\\%
20.9\\21.0\\20.6\\20.7\\%
20.9\\20.8\\20.4\\20.5\\%
20.4\\20.5\\20.0\\20.2\\%
20.1\\20.2\\22.0\\20.3\\%
20.1\\20.1\\19.7\\19.9\\%
19.6\\19.7\\19.2\\19.4\\%
19.0\\19.2\\19.0\\21.5\\%
21.2\\}\fPri
\pgfplotstableread[header=false,row sep=\\]{%
33.2\\32.2\\31.6\\31.0\\%
30.5\\30.1\\29.4\\29.1\\%
28.9\\29.0\\29.1\\29.6\\%
30.2\\30.6\\31.0\\30.8\\%
30.5\\30.4\\30.3\\30.2\\%
30.2\\30.1\\29.9\\29.8\\%
29.7\\29.4\\28.9\\28.6\\%
28.3\\28.0\\27.8\\27.5\\%
27.2\\26.5\\25.8\\25.1\\%
24.5\\24.2\\23.8\\23.6\\%
23.4\\23.2\\22.9\\22.8\\%
22.6\\28.9\\28.3\\28.2\\%
28.3\\28.4\\28.2\\28.3\\%
28.3\\28.4\\28.2\\27.8\\%
27.2\\26.8\\26.2\\25.9\\%
25.6\\25.2\\24.6\\24.3\\%
23.9\\23.7\\23.4\\26.1\\%
24.5\\24.0\\23.4\\23.6\\%
23.9\\24.0\\23.7\\23.7\\%
23.7\\23.6\\23.4\\23.5\\%
23.4\\23.4\\23.1\\23.2\\%
23.1\\23.1\\22.8\\22.9\\%
22.8\\22.9\\22.7\\22.8\\%
22.8\\22.9\\22.7\\22.8\\%
22.8\\22.8\\22.6\\22.7\\%
22.6\\22.7\\22.4\\22.5\\%
22.4\\22.5\\22.2\\22.3\\%
22.3\\22.4\\23.9\\22.5\\%
22.3\\22.3\\22.0\\22.1\\%
22.0\\22.1\\21.8\\21.9\\%
21.7\\21.8\\21.8\\23.7\\%
23.2\\}\fSS

\tikzset{stat/.style={align=center, font=\bfseries\fontsize{17}{15.5}\selectfont}}
\pgfplotsset{
  panel/.style={
    scale only axis, anchor=south west,
    xmin=1, xmax=32, xtick={1,8,15,22,29},
    tick pos=left, tick align=outside,
    major tick length=6pt,
    every tick/.style={black, line width=1.2pt},
    axis line style={line width=1.4pt},
    /pgf/number format/assume math mode=true,
    tick label style={font=\fontsize{20}{20}\selectfont},
    title style={at={(axis description cs:0.5,1)}, anchor=center, yshift=11pt,
      font=\bfseries\fontsize{24}{24}\selectfont},
    every axis y label/.style={at={(axis description cs:-0.14,0.5)}, rotate=90, anchor=center,
      font=\fontsize{24}{24}\selectfont},
    every axis x label/.style={at={(axis description cs:0.5,-0.196)}, anchor=center,
      font=\fontsize{24}{24}\selectfont},
  },
  top/.style={height=213pt},
  bot/.style={height=214pt},
  obs/.style={only marks, mark=*, mark size=2.5pt, color=obsblue,
    mark options={draw=none, fill=obsblue},
    legend image code/.code={\draw[##1] plot coordinates {(15pt,0pt)};}},
  pri/.style={no marks, color=priorred, line width=4.4pt, line join=round,
    legend image code/.code={\draw[##1] (0pt,0pt) -- (30pt,0pt);}},
  ss/.style={no marks, color=ssgreen, line width=4.4pt, line join=round,
    legend image code/.code={\draw[##1] (0pt,0pt) -- (30pt,0pt);}},
  ms/.style={no marks, color=msolive, line width=4.4pt, line join=round,
    legend image code/.code={\draw[##1] (0pt,0pt) -- (30pt,0pt);}},
}
\newcommand{\obsA}[1]{\addplot[obs] table[x expr=1+\coordindex/6, y index=0]{#1};}
\newcommand{\obsB}[1]{\addplot[obs, forget plot] table[x expr=1.125+\coordindex/4, y index=0]{#1};}

\begin{document}
\begin{tikzpicture}
\path[use as bounding box] (0,0) rectangle (1351pt,591pt);

% (a)
\begin{axis}[panel, top, at={(72pt,341pt)}, width=364pt,
  ymin=10, ymax=47.8, ytick={10,20,30,40},
  title={(a) 201307}, ylabel={SWC (\%)},
  legend style={at={(axis description cs:0.981,0.770)}, anchor=north east,
    draw=black!18, rounded corners=2pt, font=\fontsize{15}{15}\selectfont,
    row sep=0.6pt, inner sep=3pt},
  legend cell align=left]
\obsB{\aObsB}
\obsA{\aObs}
\addlegendentry{Obs}
\addplot[pri] table[x expr=1+\coordindex/4, y index=0]{\aPri};
\addlegendentry{Prior}
\addplot[ss] table[x expr=1+\coordindex/4, y index=0]{\aSS};
\addlegendentry{Posterior\_SS}
\addlegendimage{ms}
\addlegendentry{Posterior\_MS}
\node[stat, text=obsblue] at (axis description cs:0.166,0.874) {N=744\\Mean=23.59};
\node[stat, text=priorred] at (axis description cs:0.497,0.874) {Mean=19.54\\RMSE=5.17};
\node[stat, text=ssgreen] at (axis description cs:0.829,0.874) {Mean=21.71\\RMSE=3.83};
\end{axis}

% (b)
\begin{axis}[panel, top, at={(503pt,341pt)}, width=365pt,
  ymin=7.1, ymax=46, ytick={10,20,30,40},
  title={(b) 201407}]
\obsB{\bObsB}
\obsA{\bObs}
\addplot[pri] table[x expr=1+\coordindex/4, y index=0]{\bPri};
\addplot[ss] table[x expr=1+\coordindex/4, y index=0]{\bSS};
\node[stat, text=obsblue] at (axis description cs:0.166,0.880) {N=744\\Mean=26.57};
\node[stat, text=priorred] at (axis description cs:0.497,0.880) {Mean=19.53\\RMSE=7.61};
\node[stat, text=ssgreen] at (axis description cs:0.829,0.880) {Mean=23.95\\RMSE=3.86};
\end{axis}

% (c)
\begin{axis}[panel, top, at={(934pt,341pt)}, width=365pt,
  ymin=3.1, ymax=34.9, ytick={10,20,30},
  title={(c) 201408}]
\obsB{\cObsB}
\obsA{\cObs}
\addplot[pri] table[x expr=1+\coordindex/4, y index=0]{\cPri};
\addplot[ss] table[x expr=1+\coordindex/4, y index=0]{\cSS};
\addplot[ms] table[x expr=1+\coordindex/4, y index=0]{\cMS};
\node[stat, text=obsblue] at (axis description cs:0.170,0.889) {N=744\\Mean=17.55};
\node[stat, text=ssgreen] at (axis description cs:0.501,0.889) {Mean=13.98\\RMSE=4.75};
\node[stat, text=priorred] at (axis description cs:0.170,0.722) {Mean=11.71\\RMSE=6.52};
\node[stat, text=msolive] at (axis description cs:0.501,0.722) {Mean=13.51\\RMSE=5.03};
\end{axis}

% (d)
\begin{axis}[panel, bot, at={(72pt,58pt)}, width=364pt,
  ymin=16, ymax=50, ytick={20,30,40,50},
  title={(d) 201507}, ylabel={SWC (\%)}, xlabel={Day of month}]
\obsB{\dObsB}
\obsA{\dObs}
\addplot[pri] table[x expr=1+\coordindex/4, y index=0]{\dPri};
\addplot[ss] table[x expr=1+\coordindex/4, y index=0]{\dSS};
\node[stat, text=obsblue] at (axis description cs:0.166,0.872) {N=744\\Mean=29.25};
\node[stat, text=priorred] at (axis description cs:0.497,0.872) {Mean=21.87\\RMSE=7.96};
\node[stat, text=ssgreen] at (axis description cs:0.829,0.872) {Mean=22.93\\RMSE=6.91};
\end{axis}

% (e)
\begin{axis}[panel, bot, at={(503pt,58pt)}, width=365pt,
  ymin=10, ymax=50, ytick={10,20,30,40,50},
  title={(e) 201607}, xlabel={Day of month}]
\obsB{\eObsB}
\obsA{\eObs}
\addplot[pri] table[x expr=1+\coordindex/4, y index=0]{\ePri};
\addplot[ss] table[x expr=1+\coordindex/4, y index=0]{\eSS};
\node[stat, text=obsblue] at (axis description cs:0.166,0.879) {N=744\\Mean=29.62};
\node[stat, text=priorred] at (axis description cs:0.497,0.879) {Mean=17.46\\RMSE=12.55};
\node[stat, text=ssgreen] at (axis description cs:0.829,0.879) {Mean=18.58\\RMSE=11.39};
\end{axis}

% (f)
\begin{axis}[panel, bot, at={(934pt,58pt)}, width=365pt,
  ymin=15, ymax=50, ytick={20,30,40,50},
  title={(f) 201707}, xlabel={Day of month}]
\obsB{\fObsB}
\obsA{\fObs}
\addplot[pri] table[x expr=1+\coordindex/4, y index=0]{\fPri};
\addplot[ss] table[x expr=1+\coordindex/4, y index=0]{\fSS};
\node[stat, text=obsblue] at (axis description cs:0.164,0.872) {N=744\\Mean=29.88};
\node[stat, text=priorred] at (axis description cs:0.493,0.872) {Mean=23.31\\RMSE=7.50};
\node[stat, text=ssgreen] at (axis description cs:0.827,0.872) {Mean=25.55\\RMSE=5.53};
\end{axis}

\draw[sepred, line width=5pt] (7pt,293.5pt) -- (1346pt,293.5pt);
\end{tikzpicture}
\end{document}
